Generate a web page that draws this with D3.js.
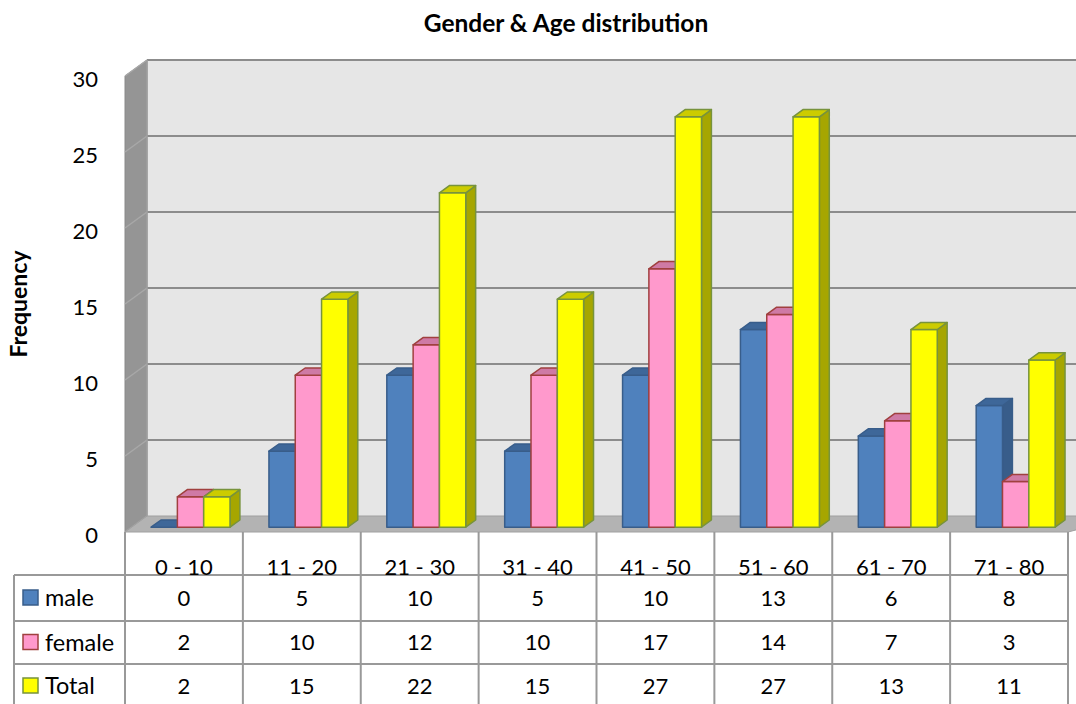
<!DOCTYPE html>
<html>
<head>
<meta charset="utf-8">
<script src="https://cdn.jsdelivr.net/npm/d3@7"></script>
<style>
  html, body { margin: 0; padding: 0; background: #fff; }
  svg { display: block; font-family: Lato, "Open Sans", sans-serif; }
</style>
</head>
<body>
<svg id="chart" width="1076" height="704"></svg>
<script>
const categories = ["0 - 10", "11 - 20", "21 - 30", "31 - 40", "41 - 50", "51 - 60", "61 - 70", "71 - 80"];
const male   = [0, 5, 10, 5, 10, 13, 6, 8];
const female = [2, 10, 12, 10, 17, 14, 7, 3];
const total  = [2, 15, 22, 15, 27, 27, 13, 11];
const seriesNames = ["male", "female", "Total"];
const yTicks = [0, 5, 10, 15, 20, 25, 30];

const seriesValues = [male, female, total];
// front / top / side / outline colours, Excel 2007 style
const STYLES = [
  { front: "#4F81BD", top: "#3E6799", side: "#385D8A", stroke: "#385D8A" },
  { front: "#FF99CC", top: "#CF7AA5", side: "#B86E93", stroke: "#A0403F" },
  { front: "#FFFF00", top: "#CCCC00", side: "#A6A600", stroke: "#77933C" }
];

// plot frame: front plane + depth offset of the back wall
const LEFT = 125, RIGHT = 1068, DX = 22, DY = 16;
const Z0 = 0.3, Z1 = 0.75;
const FONT = 22;

const svg = d3.select("#chart");

const y = d3.scaleLinear().domain([0, 30]).range([532, 76]);
const x0 = d3.scaleBand().domain(categories).range([LEFT, RIGHT]);
const x1 = d3.scaleBand().domain(seriesNames).range([0, x0.bandwidth()]).paddingOuter(0.74);

const proj = (x, v, z) => [x + z * DX, y(v) - z * DY];
const poly = pts => "M" + pts.map(p => p.join(",")).join("L") + "Z";

// walls
svg.append("path")
  .attr("d", poly([proj(LEFT, 0, 1), proj(LEFT, 30, 1), proj(RIGHT + 40, 30, 1), proj(RIGHT + 40, 0, 1)]))
  .attr("fill", "#E6E6E6");

svg.append("path")
  .attr("d", poly([proj(LEFT, 0, 0), proj(LEFT, 30, 0), proj(LEFT, 30, 1), proj(LEFT, 0, 1)]))
  .attr("fill", "#959595").attr("stroke", "#8A8A8A").attr("stroke-width", 1);

// gridlines on back wall and side wall
yTicks.forEach(t => {
  const a = proj(LEFT, t, 1), b = proj(RIGHT + 40, t, 1), c = proj(LEFT, t, 0);
  if (t > 0) {
    svg.append("line")
      .attr("x1", a[0]).attr("y1", a[1]).attr("x2", b[0]).attr("y2", b[1])
      .attr("stroke", "#8C8C8C").attr("stroke-width", 2);
  }
  svg.append("line")
    .attr("x1", c[0]).attr("y1", c[1]).attr("x2", a[0]).attr("y2", a[1])
    .attr("stroke", "#A8A8A8").attr("stroke-width", 1.5);
});
{
  const a = proj(LEFT, 0, 1), b = proj(LEFT, 30, 1);
  svg.append("line")
    .attr("x1", a[0]).attr("y1", a[1]).attr("x2", b[0]).attr("y2", b[1])
    .attr("stroke", "#A0A0A0").attr("stroke-width", 1.5);
}

// floor
svg.append("path")
  .attr("d", poly([proj(LEFT, 0, 0), proj(RIGHT, 0, 0), proj(RIGHT + 40, 0, 1), proj(LEFT, 0, 1)]))
  .attr("fill", "#B3B3B3").attr("stroke", "#A0A0A0").attr("stroke-width", 1);

// bars, drawn left to right so each front face hides the previous side face
categories.forEach((cat, i) => {
  seriesNames.forEach((s, j) => {
    const v = seriesValues[j][i];
    const st = STYLES[j];
    const xl = x0(cat) + x1(s), xr = xl + x1.bandwidth();
    const g = svg.append("g").attr("stroke", st.stroke).attr("stroke-width", 1.5).attr("stroke-linejoin", "round");
    if (v > 0) {
      g.append("path")
        .attr("d", poly([proj(xr, 0, Z0), proj(xr, 0, Z1), proj(xr, v, Z1), proj(xr, v, Z0)]))
        .attr("fill", st.side);
      g.append("path")
        .attr("d", poly([proj(xl, 0, Z0), proj(xr, 0, Z0), proj(xr, v, Z0), proj(xl, v, Z0)]))
        .attr("fill", st.front);
    }
    g.append("path")
      .attr("d", poly([proj(xl, v, Z0), proj(xr, v, Z0), proj(xr, v, Z1), proj(xl, v, Z1)]))
      .attr("fill", st.top);
  });
});

// y tick labels
svg.append("g")
  .selectAll("text")
  .data(yTicks)
  .join("text")
  .attr("x", 98)
  .attr("y", d => y(d) + 3)
  .attr("dy", "0.35em")
  .attr("text-anchor", "end")
  .attr("font-size", FONT)
  .attr("fill", "#000")
  .text(d => d);

// titles
svg.append("text")
  .attr("x", 566).attr("y", 32)
  .attr("text-anchor", "middle")
  .attr("font-size", 24.5).attr("font-weight", "bold")
  .text("Gender & Age distribution");

svg.append("text")
  .attr("transform", "translate(27,304) rotate(-90)")
  .attr("text-anchor", "middle")
  .attr("font-size", 23).attr("font-weight", "bold")
  .text("Frequency");

// data table
const HEAD_TOP = 532, ROW_TOPS = [575, 621, 664], ROW_H = 44, TABLE_LEFT = 14;
const LINE = "#999999";
const table = svg.append("g");

[...categories.map(c => x0(c)), RIGHT].forEach(xv => {
  table.append("line")
    .attr("x1", xv).attr("x2", xv).attr("y1", HEAD_TOP).attr("y2", 708)
    .attr("stroke", LINE).attr("stroke-width", 2);
});
table.append("line")
  .attr("x1", TABLE_LEFT).attr("x2", TABLE_LEFT).attr("y1", ROW_TOPS[0]).attr("y2", 708)
  .attr("stroke", LINE).attr("stroke-width", 2);
ROW_TOPS.forEach(ry => {
  table.append("line")
    .attr("x1", TABLE_LEFT).attr("x2", RIGHT).attr("y1", ry).attr("y2", ry)
    .attr("stroke", LINE).attr("stroke-width", 2);
});

table.selectAll(".cat")
  .data(categories)
  .join("text")
  .attr("class", "cat")
  .attr("x", d => x0(d) + x0.bandwidth() / 2)
  .attr("y", 575)
  .attr("text-anchor", "middle")
  .attr("font-size", FONT)
  .text(d => d);

seriesNames.forEach((s, j) => {
  const cy = ROW_TOPS[j] + (ROW_TOPS[j + 1] ? ROW_TOPS[j + 1] - ROW_TOPS[j] : ROW_H) / 2;
  table.append("rect")
    .attr("x", 23).attr("y", cy - 8).attr("width", 15).attr("height", 15)
    .attr("fill", STYLES[j].front).attr("stroke", STYLES[j].stroke).attr("stroke-width", 1.5);
  table.append("text")
    .attr("x", 45).attr("y", cy).attr("dy", "0.35em")
    .attr("font-size", 23.5)
    .text(s);
  table.selectAll(".v" + j)
    .data(seriesValues[j])
    .join("text")
    .attr("class", "v" + j)
    .attr("x", (d, i) => x0(categories[i]) + x0.bandwidth() / 2)
    .attr("y", cy).attr("dy", "0.35em")
    .attr("text-anchor", "middle")
    .attr("font-size", FONT)
    .text(d => d);
});
</script>
</body>
</html>
